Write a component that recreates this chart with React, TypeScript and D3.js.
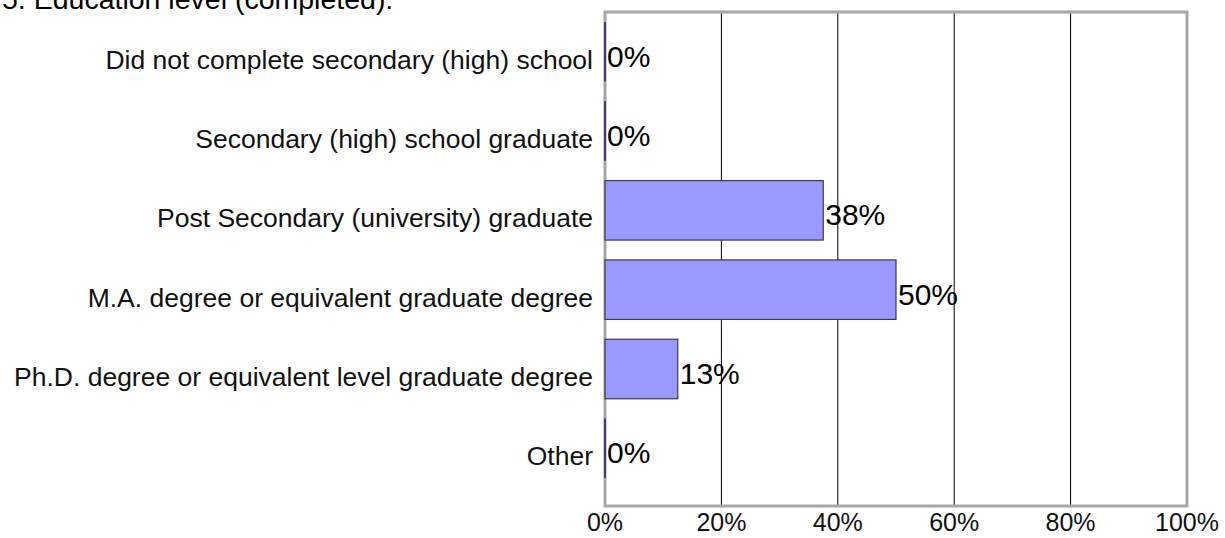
import * as d3 from "d3";
import React, { useRef, useEffect } from "react";

const width = 1225;
const height = 538;

const categories = [
  "Did not complete secondary (high) school",
  "Secondary (high) school graduate",
  "Post Secondary (university) graduate",
  "M.A. degree or equivalent graduate degree",
  "Ph.D. degree or equivalent level graduate degree",
  "Other",
];
const values = [0, 0, 37.5, 50, 12.5, 0];
const labels = ["0%", "0%", "38%", "50%", "13%", "0%"];
const ticks = [0, 20, 40, 60, 80, 100];

const plot = { left: 605, right: 1187, top: 12, bottom: 506, bandBottom: 488 };
const font = "'Liberation Sans', Arial, sans-serif";

export default function App() {
  const ref = useRef(null);

  useEffect(() => {
    const svg = d3.select(ref.current);
    svg.selectAll("*").remove();

    const x = d3.scaleLinear().domain([0, 100]).range([plot.left, plot.right]);
    const y = d3
      .scaleBand()
      .domain(categories)
      .range([plot.top, plot.bandBottom])
      .paddingInner(0.25)
      .paddingOuter(0.125);

    // title (cut off at top, as in the source)
    svg
      .append("text")
      .attr("x", 2)
      .attr("y", 9)
      .style("font-family", font)
      .style("font-size", "28.5px")
      .text("5. Education level (completed):");

    // gridlines
    svg
      .append("g")
      .selectAll("line")
      .data(ticks.slice(1, -1))
      .join("line")
      .attr("x1", (d) => x(d))
      .attr("x2", (d) => x(d))
      .attr("y1", plot.top)
      .attr("y2", plot.bottom)
      .attr("stroke", "#000")
      .attr("stroke-width", 1);

    // frame
    svg
      .append("rect")
      .attr("x", plot.left)
      .attr("y", plot.top)
      .attr("width", plot.right - plot.left)
      .attr("height", plot.bottom - plot.top)
      .attr("fill", "none")
      .attr("stroke", "#a6a6a6")
      .attr("stroke-width", 3);

    // bars
    const data = categories.map((c, i) => ({ c, v: values[i], label: labels[i] }));
    svg
      .append("g")
      .selectAll("rect")
      .data(data.filter((d) => d.v > 0))
      .join("rect")
      .attr("x", x(0))
      .attr("y", (d) => y(d.c) as number)
      .attr("width", (d) => x(d.v) - x(0))
      .attr("height", y.bandwidth())
      .attr("fill", "#9999ff")
      .attr("stroke", "#3a3a4a")
      .attr("stroke-width", 1.2);

    // zero-value bars show only as their outline
    svg
      .append("g")
      .selectAll("line")
      .data(data.filter((d) => d.v === 0))
      .join("line")
      .attr("x1", x(0))
      .attr("x2", x(0))
      .attr("y1", (d) => y(d.c) as number)
      .attr("y2", (d) => (y(d.c) as number) + y.bandwidth())
      .attr("stroke", "#3c3c6e")
      .attr("stroke-width", 2);

    // value labels
    svg
      .append("g")
      .selectAll("text")
      .data(data)
      .join("text")
      .attr("x", (d) => x(d.v) + 2)
      .attr("y", (d) => (y(d.c) as number) + y.bandwidth() / 2 + 15)
      .style("font-family", font)
      .style("font-size", "30px")
      .attr("fill", "#000")
      .text((d) => d.label);

    // category labels
    svg
      .append("g")
      .selectAll("text")
      .data(categories)
      .join("text")
      .attr("x", plot.left - 12)
      .attr("y", (d) => (y(d) as number) + y.bandwidth() / 2 + 17)
      .attr("text-anchor", "end")
      .style("font-family", font)
      .style("font-size", "26.5px")
      .attr("fill", "#111")
      .text((d) => d);

    // x tick labels
    svg
      .append("g")
      .selectAll("text")
      .data(ticks)
      .join("text")
      .attr("x", (d) => x(d))
      .attr("y", 531)
      .attr("text-anchor", "middle")
      .style("font-family", font)
      .style("font-size", "25px")
      .attr("fill", "#111")
      .text((d) => d + "%");
  }, []);

  return (
    <svg
      ref={ref}
      width={width}
      height={height}
      style={{ position: "absolute", left: 0, top: 0, background: "#fff" }}
    ></svg>
  );
}
